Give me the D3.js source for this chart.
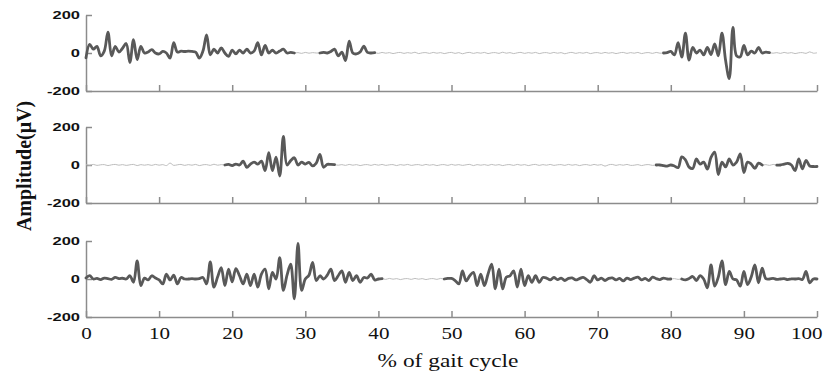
<!DOCTYPE html>
<html>
<head>
<meta charset="utf-8">
<script src="https://cdn.jsdelivr.net/npm/d3@7"></script>
<style>
  body { margin: 0; background: #fff; }
  svg { display: block; }
</style>
</head>
<body>
<div id="chart"></div>
<script>
// tick labels
const xTicks = [0, 10, 20, 30, 40, 50, 60, 70, 80, 90, 100];
const yTicks = [-200, 0, 200];
const step = 0.5; // one sample every 0.5 % of gait cycle

// muscle 1, uV, rows of 5 % each
const emg1 = [
  -25, 45, 20, 35, -15, 10, 110, -15, 35, 5,
  25, 50, -50, 70, -35, 35, 0, 5, 18, 0,
  -5, 8, 0, -27, 54, 5, 10, 8, 10, 8,
  5, -27, 10, 95, -10, 20, 0, 27, 0, -18,
  15, -5, 15, 0, 20, 0, 10, 54, -10, 40,
  0, 15, 0, 10, 20, 0, 3, 0, 2, -2,
  3, -1, 2, 0, 0, 3, 0, 8, 20, -15,
  5, -40, 63, 0, -5, 5, 36, 3, 0, 2,
  -2, 3, -1, 2, -3, 1, 3, -2, 2, -1,
  4, -3, 1, 2, -2, 3, -1, 2, -3, 1,
  3, -2, 2, -4, 1, 3, -2, 2, -1, 3,
  -3, 1, 2, -2, 4, -1, 2, -3, 1, 3,
  -2, 2, -1, 3, -3, 1, 2, -2, 3, -1,
  2, -4, 1, 3, -2, 2, -1, 3, -3, 1,
  2, -2, 3, -1, 2, -3, 1, 3, -2, 2,
  -1, 3, -3, 1, 2, -2, 3, -1, 0, 2,
  8, -10, 55, -22, 105, -38, 30, 0, 15, -10,
  30, -8, 48, -15, 105, -40, -135, 135, -15, -20,
  40, -10, 10, 0, 30, 0, 5, 2, -1, 2,
  -2, 3, -1, 2, -3, 1, 2, -2, 6, -1,
  1
];
const active1 = [[0, 28.5], [32, 39.5], [79, 93.5]];

// muscle 2
const emg2 = [
  2, -1, 3, -2, 1, 2, -3, 1, 3, -1,
  2, -2, 1, 3, -3, 2, -1, 2, -2, 3,
  -1, 2, -3, 10, -2, 1, 3, -2, 2, -1,
  3, -3, 1, 2, -2, 4, -1, 2, 0, 3,
  -3, 5, 0, 20, -12, 5, 15, 5, 20, -30,
  65, -30, 41, -58, 150, 0, 23, 38, 0, 15,
  5, 14, -5, 10, 56, -12, 3, 3, 2, -1,
  2, -2, 3, -1, 2, -3, 1, 2, -2, 3,
  -1, 3, -2, 1, 2, -3, 2, -1, 3, -2,
  1, 2, -2, 3, -1, 2, -3, 1, 2, -2,
  3, -1, 2, -2, 1, 3, -3, 2, -1, 2,
  -2, 3, -1, 2, -3, 1, 2, -2, 3, -1,
  2, -3, 1, 3, -2, 2, -1, 3, -2, 1,
  2, -2, 3, -1, 2, -3, 1, 2, -2, 3,
  -1, 2, -6, 1, 3, -2, 2, -1, 3, -2,
  -1, 2, -3, 1, 2, -2, 0, 0, -3, -6,
  0, -5, -14, 43, 27, -11, -18, 32, 5, 15,
  -22, 40, 68, -50, 15, -10, 32, 0, 15, 59,
  -40, 15, 5, -18, 10, 0, 2, -2, 3, -1,
  0, 5, 8, 0, -30, 32, -20, 24, -5, -8,
  -8
];
const active2 = [[19, 34], [78, 92.5], [94.5, 100]];

// muscle 3
const emg3 = [
  5, 18, 0, 3, -3, 5, 2, -2, 8, 2,
  4, 0, 17, -17, 95, -35, 5, -5, 17, 5,
  -5, -26, 26, -5, 20, -26, 8, 0, 0, 2,
  0, 2, 8, -26, 90, -43, 10, 60, -35, 52,
  -15, 55, 17, -26, 26, -35, 26, -43, 26, 52,
  -52, 35, 0, 112, -60, 20, 78, -104, 187, -60,
  0, 20, 87, -8, 17, 0, 20, 52, -8, 17,
  43, -17, 35, -8, 17, -17, 8, 5, 26, -5,
  0, 2, -2, 3, -1, 2, -3, 1, 2, -2,
  3, -1, 2, -3, 1, 2, -2, 3, 0, 3,
  3, -8, -26, 43, -10, 17, 35, -35, 26, -35,
  26, 78, -52, 52, -52, 10, 17, 43, -43, 52,
  -35, 17, -17, 17, -17, 8, 5, -5, 8, -3,
  5, -8, 3, 6, -5, 2, 8, -3, -17, 17,
  -5, 5, -8, 3, 6, -5, 3, -10, 5, -3,
  5, 10, -5, 3, -8, 10, 2, -3, 5, 0,
  0, 2, -2, 0, -5, 3, 13, -8, 18, 0,
  -47, 74, -38, 10, 95, -30, 40, 0, -5, -38,
  40, -30, 10, 74, -20, 57, 2, 0, 3, -2,
  0, 2, -3, 1, 0, 2, -2, 40, -20, 0,
  0
];
const active3 = [[0, 40.5], [49, 80], [81.5, 100]];

const width = 825, height = 379;
const panelH = 76;
const axisColor = "#8c8c8c";

const svg = d3.select("#chart")
  .append("svg")
  .attr("width", width)
  .attr("height", height);

const x = d3.scaleLinear().domain([0, 100]).range([86, 817]);

const panels = [
  { data: emg1, active: active1, top: 15 },
  { data: emg2, active: active2, top: 127 },
  { data: emg3, active: active3, top: 241 }
];

panels.forEach((p, k) => {
  const y = d3.scaleLinear().domain([-200, 200]).range([p.top + panelH, p.top]);
  const g = svg.append("g");
  const last = k === panels.length - 1;

  const xAxis = d3.axisBottom(x)
    .tickValues(xTicks)
    .tickSize(-6)
    .tickSizeOuter(0)
    .tickPadding(10)
    .tickFormat(last ? d => String(d) : "");

  const gx = g.append("g")
    .attr("transform", `translate(0,${p.top + panelH})`)
    .call(xAxis);

  const yAxis = d3.axisLeft(y)
    .tickValues(yTicks)
    .tickSize(-6)
    .tickSizeOuter(0)
    .tickPadding(4)
    .tickFormat(d => String(d)); // plain hyphen, as in the figure

  const gy = g.append("g")
    .attr("transform", `translate(${x(0)},0)`)
    .call(yAxis);

  g.selectAll(".domain, .tick line")
    .attr("stroke", axisColor)
    .attr("stroke-width", 1.5);

  gx.selectAll("text")
    .attr("font-family", "Liberation Serif, Times New Roman, serif")
    .attr("font-size", 17)
    .attr("fill", "#111")
    .attr("transform", "scale(1.24,1)");
  // keep "100" inside the picture
  gx.selectAll("text")
    .filter(d => d === 100)
    .attr("text-anchor", "end")
    .attr("x", 4);

  gy.selectAll("text")
    .attr("font-family", "Liberation Sans, Arial, sans-serif")
    .attr("font-weight", "bold")
    .attr("font-size", 11)
    .attr("fill", "#111")
    .attr("transform", "scale(1.5,1)");

  const pts = p.data.map((v, i) => [i * step, v]);
  const line = d3.line()
    .curve(d3.curveCatmullRom.alpha(0.5))
    .x(d => x(d[0]))
    .y(d => y(d[1]));

  // quiet baseline
  g.append("path")
    .datum(pts)
    .attr("d", line)
    .attr("fill", "none")
    .attr("stroke", "#bdbdbd")
    .attr("stroke-width", 1);

  // active bursts
  p.active.forEach(([a, b]) => {
    g.append("path")
      .datum(pts.filter(d => d[0] >= a && d[0] <= b))
      .attr("d", line)
      .attr("fill", "none")
      .attr("stroke", "#595959")
      .attr("stroke-width", 2.8)
      .attr("stroke-linejoin", "round")
      .attr("stroke-linecap", "round");
  });
});

svg.append("text")
  .attr("transform", "translate(448,367) scale(1.3,1)")
  .attr("text-anchor", "middle")
  .attr("font-family", "Liberation Serif, Times New Roman, serif")
  .attr("font-size", 18)
  .attr("fill", "#111")
  .text("% of gait cycle");

svg.append("text")
  .attr("transform", "translate(31,166) rotate(-90)")
  .attr("text-anchor", "middle")
  .attr("font-family", "Liberation Serif, Times New Roman, serif")
  .attr("font-weight", "bold")
  .attr("font-size", 20)
  .attr("fill", "#111")
  .text("Amplitude(μV)");
</script>
</body>
</html>
